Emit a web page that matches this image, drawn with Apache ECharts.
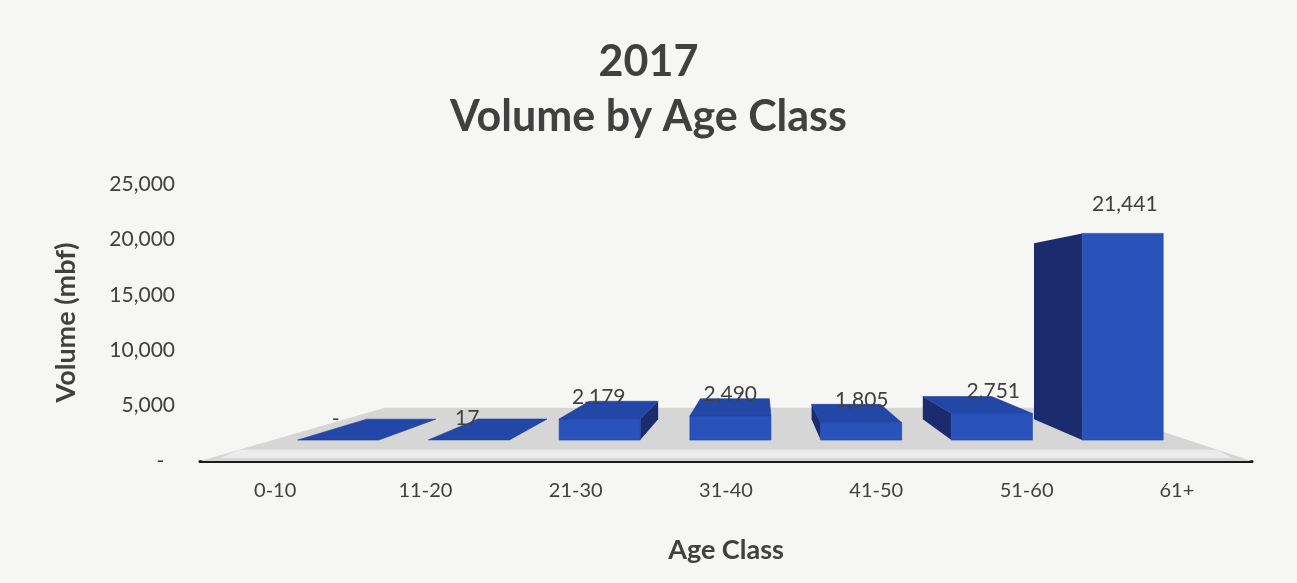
<!DOCTYPE html>
<html>
<head>
<meta charset="utf-8">
<script src="https://cdn.jsdelivr.net/npm/echarts@6/dist/echarts.min.js"></script>
<style>
  html, body { margin: 0; padding: 0; background: #f6f6f5; }
  #chart { width: 1297px; height: 583px; }
</style>
</head>
<body>
<div id="chart"></div>
<script>
// ---- data ----
const categories = ['0-10', '11-20', '21-30', '31-40', '41-50', '51-60', '61+'];
const volumes = [0, 17, 2179, 2490, 1805, 2751, 21441];
const titleLines = ['2017', 'Volume by Age Class'];
const yAxisName = 'Volume (mbf)';
const xAxisName = 'Age Class';

// ---- view (3D look) ----
const FONT = 'Lato, "Open Sans", sans-serif';
const TEXT = '#404040';
const VX = 760, VY = 300;          // vanishing point
const F_FRONT = 0.87, F_BACK = 0.74; // bar front / back depth factors
const F_FLOOR_FRONT = 0.93, F_FLOOR_BACK = 0.67;
const BAR_RATIO = 0.62;
const COLORS = { front: '#2952ba', top: '#2347a6', side: '#1b2b6e', floor: '#d6d6d6', slab: '#ececec' };

function fmt(v) { return v === 0 ? '-' : v.toLocaleString('en-US'); }
function P(x, y, f) { return [VX + (x - VX) * f, VY + (y - VY) * f]; }

function renderBar(params, api) {
  const i = api.value(0), v = api.value(1);
  const base = api.coord([i, 0]);
  const top = api.coord([i, v]);
  const bw = api.size([1, 0])[0] * BAR_RATIO;
  const x0 = base[0] - bw / 2, x1 = base[0] + bw / 2;
  const yb = base[1], yt = top[1];
  const FLB = P(x0, yb, F_FRONT), FRB = P(x1, yb, F_FRONT), FRT = P(x1, yt, F_FRONT), FLT = P(x0, yt, F_FRONT);
  const BLB = P(x0, yb, F_BACK), BRB = P(x1, yb, F_BACK), BRT = P(x1, yt, F_BACK), BLT = P(x0, yt, F_BACK);
  const children = [];
  if (x0 > VX) children.push({ type: 'polygon', shape: { points: [FLB, FLT, BLT, BLB] }, style: { fill: COLORS.side } });
  if (x1 < VX) children.push({ type: 'polygon', shape: { points: [FRB, FRT, BRT, BRB] }, style: { fill: COLORS.side } });
  if (yt > VY) children.push({ type: 'polygon', shape: { points: [FLT, FRT, BRT, BLT] }, style: { fill: COLORS.top, stroke: '#1e3c94', lineWidth: 0.6 } });
  if (yb - yt > 0.5) children.push({ type: 'polygon', shape: { points: [FLT, FRT, FRB, FLB] }, style: { fill: COLORS.front, stroke: '#2048a8', lineWidth: 0.6 } });
  const lx = VX + (base[0] - VX) * 0.875;
  const ly = 13 + 0.903 * yt;
  children.push({
    type: 'text',
    style: { text: fmt(v), x: lx, y: ly, align: 'center', verticalAlign: 'bottom',
             textAlign: 'center', textVerticalAlign: 'bottom',
             fill: TEXT, fontSize: 21, fontFamily: FONT }
  });
  return { type: 'group', children };
}

function renderFloor(params, api) {
  const cs = params.coordSys;
  const y0 = cs.y + cs.height;
  const L = cs.x, R = cs.x + cs.width;
  const fl = P(L, y0, 1), fr = P(R, y0, 1);
  const bl = P(L, y0, F_FLOOR_BACK), br = P(R, y0, F_FLOOR_BACK);
  const sl = P(L, y0, F_FLOOR_FRONT), sr = P(R, y0, F_FLOOR_FRONT);
  return { type: 'group', children: [
    { type: 'polygon', shape: { points: [fl, fr, br, bl] }, style: { fill: COLORS.floor } },
    { type: 'polygon', shape: { points: [[sl[0], sl[1]], [sr[0], sr[1]], [fr[0] - 20, y0 - 3], [fl[0] + 20, y0 - 3]] }, style: { fill: COLORS.slab } }
  ]};
}

const chart = echarts.init(document.getElementById('chart'), null, { renderer: 'canvas' });
chart.setOption({
  backgroundColor: '#f6f6f5',
  animation: false,
  title: {
    text: titleLines.join('\n'),
    left: 'center', top: 30,
    textStyle: { fontFamily: FONT, fontSize: 43, fontWeight: 'bold', color: TEXT, lineHeight: 55 }
  },
  grid: { left: 200, right: 45, top: 184, bottom: 122 },
  xAxis: {
    type: 'category', data: categories,
    name: xAxisName, nameLocation: 'middle', nameGap: 76,
    nameTextStyle: { fontFamily: FONT, fontSize: 27, fontWeight: 'bold', color: TEXT },
    axisLine: { lineStyle: { color: '#1a1a1a', width: 3 } },
    axisTick: { show: false },
    axisLabel: { margin: 20, fontFamily: FONT, fontSize: 20, color: TEXT }
  },
  yAxis: {
    type: 'value', min: 0, max: 25000, interval: 5000,
    name: yAxisName, nameLocation: 'middle', nameRotate: 90, nameGap: 120,
    nameTextStyle: { fontFamily: FONT, fontSize: 27, fontWeight: 'bold', color: TEXT },
    axisLine: { show: false }, axisTick: { show: false }, splitLine: { show: false },
    axisLabel: { margin: 25, fontFamily: FONT, fontSize: 21, color: TEXT,
      formatter: v => v === 0 ? '-  ' : v.toLocaleString('en-US') }
  },
  series: [
    { type: 'custom', renderItem: renderFloor, data: [[0, 0]], silent: true, z: 1 },
    { type: 'custom', renderItem: renderBar, data: volumes.map((v, i) => [i, v]), z: 2 }
  ]
});
</script>
</body>
</html>
